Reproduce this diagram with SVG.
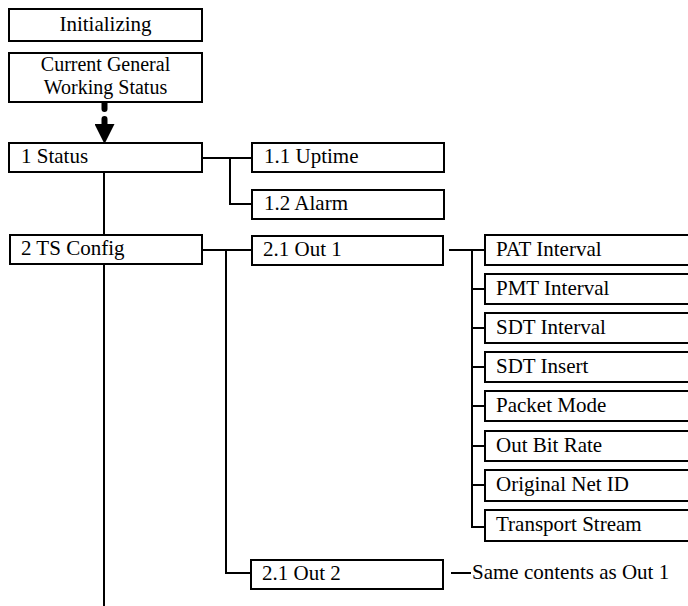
<svg xmlns="http://www.w3.org/2000/svg" width="688" height="606" viewBox="0 0 688 606" font-family="Liberation Serif, Times New Roman, serif">
<defs>
<style>
.box{fill:#fff;stroke:#000;stroke-width:2}
text{font-family:"Liberation Serif",serif;font-size:21px;fill:#000}
.c{text-anchor:middle}
.two{font-size:20px}
.ln{fill:none;stroke:#000;stroke-width:2}
</style>
<marker id="ah" markerUnits="userSpaceOnUse" markerWidth="20" markerHeight="20" viewBox="0 0 20 20" refX="19" refY="10" orient="auto">
<path d="M0,0 L20,10 L0,20 Z" fill="#000"/>
</marker>
</defs>
<rect width="688" height="606" fill="#fff"/>
<g id="connectors">
<path d="M104.5,103 V125" stroke="#000" stroke-width="6" stroke-linecap="round" stroke-dasharray="6 10" fill="none"/>
<line x1="104.5" y1="123" x2="104.5" y2="143" stroke="#000" stroke-width="1" marker-end="url(#ah)"/>
<path class="ln" d="M202,158 H252 M230,158 V204 H252"/>
<path class="ln" d="M104,172 V235 M104,264 V606"/>
<path class="ln" d="M202,250 H252 M226,250 V573 H252"/>
<path class="ln" d="M449,250 H485 M472,250 V527 H485 M472,289 H485 M472,328 H485 M472,367 H485 M472,406 H485 M472,446 H485 M472,485 H485"/>
<path class="ln" d="M451,573 H471"/>
</g>
<g id="n-init"><rect class="box" x="9" y="9" width="193" height="32"/><text class="c" x="105.5" y="31">Initializing</text></g>
<g id="n-current"><rect class="box" x="9" y="53" width="193" height="49"/><text class="c two" x="105.5" y="71">Current General</text><text class="c two" x="105.5" y="93.5">Working Status</text></g>
<g id="n-status"><rect class="box" x="9" y="143" width="193" height="29"/><text x="21" y="163">1 Status</text></g>
<g id="n-uptime"><rect class="box" x="252" y="143" width="192" height="29"/><text x="264" y="163">1.1 Uptime</text></g>
<g id="n-alarm"><rect class="box" x="252" y="190" width="192" height="29"/><text x="264" y="210">1.2 Alarm</text></g>
<g id="n-tsconfig"><rect class="box" x="10" y="235" width="192" height="29"/><text x="21" y="255">2 TS Config</text></g>
<g id="n-out1"><rect class="box" x="252" y="236" width="191" height="29"/><text x="263" y="256">2.1 Out 1</text></g>
<g id="n-out2"><rect class="box" x="251" y="560" width="192" height="29"/><text x="262" y="580">2.1 Out 2</text></g>
<g id="n-pat"><rect class="box" x="485" y="235" width="215" height="30"/><text x="496" y="256">PAT Interval</text></g>
<g id="n-pmt"><rect class="box" x="485" y="274" width="215" height="30"/><text x="496" y="295">PMT Interval</text></g>
<g id="n-sdti"><rect class="box" x="485" y="313" width="215" height="30"/><text x="496" y="334">SDT Interval</text></g>
<g id="n-sdtins"><rect class="box" x="485" y="352" width="215" height="30"/><text x="496" y="373">SDT Insert</text></g>
<g id="n-packet"><rect class="box" x="485" y="391" width="215" height="30"/><text x="496" y="412">Packet Mode</text></g>
<g id="n-bitrate"><rect class="box" x="485" y="431" width="215" height="30"/><text x="496" y="452">Out Bit Rate</text></g>
<g id="n-netid"><rect class="box" x="485" y="470" width="215" height="31"/><text x="496" y="491">Original Net ID</text></g>
<g id="n-ts"><rect class="box" x="485" y="510" width="215" height="31"/><text x="496" y="531">Transport Stream</text></g>
<g id="n-note"><text x="472" y="579">Same contents as Out 1</text></g>
</svg>
